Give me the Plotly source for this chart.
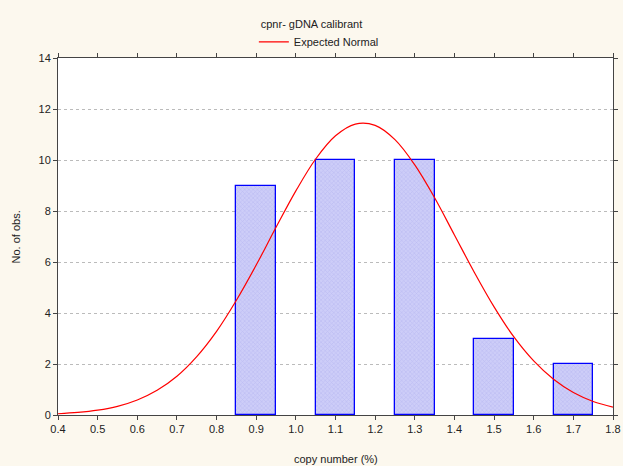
import plotly.graph_objects as go

# Histogram bars
bin_centers = [0.9, 1.1, 1.3, 1.5, 1.7]
counts = [9, 10, 10, 3, 2]

# Expected normal curve
curve_x = [0.40, 0.45, 0.50, 0.55, 0.60, 0.65, 0.70, 0.75, 0.80, 0.85,
           0.90, 0.95, 1.00, 1.05, 1.10, 1.15, 1.20, 1.25, 1.30, 1.35,
           1.40, 1.45, 1.50, 1.55, 1.60, 1.65, 1.70, 1.75, 1.80]
curve_y = [0.05, 0.10, 0.19, 0.34, 0.59, 0.97, 1.52, 2.29, 3.28, 4.50,
           5.88, 7.36, 8.79, 10.04, 10.95, 11.41, 11.36, 10.80, 9.81, 8.52,
           7.06, 5.60, 4.24, 3.06, 2.12, 1.40, 0.88, 0.53, 0.31]

x_ticks = [0.4, 0.5, 0.6, 0.7, 0.8, 0.9, 1.0, 1.1, 1.2, 1.3, 1.4, 1.5, 1.6, 1.7, 1.8]
y_ticks = [0, 2, 4, 6, 8, 10, 12, 14]

font = "Liberation Sans, Arial, sans-serif"

fig = go.Figure()
fig.add_trace(go.Bar(
    x=bin_centers, y=counts, width=0.1, showlegend=False,
    marker=dict(color="#C6C6F6", line=dict(color="#0000FF", width=1.3),
                pattern=dict(shape="x", fgcolor="#A8A8EE", bgcolor="#CDCDF8",
                             size=3, solidity=0.35)),
))
fig.add_trace(go.Scatter(
    x=curve_x, y=curve_y, mode="lines", name="Expected Normal",
    line=dict(color="#FF0000", width=1.2, shape="spline"),
))

fig.update_layout(
    width=623, height=466,
    margin=dict(l=58, r=10, t=58, b=51, autoexpand=False),
    paper_bgcolor="#FCF8EE", plot_bgcolor="#FFFFFF",
    font=dict(family=font, size=11, color="#222222"),
    title=dict(text="cpnr- gDNA calibrant", x=0.5, xanchor="center",
               y=0.949, yanchor="middle", font=dict(size=11, color="#222222")),
    legend=dict(orientation="h", x=0.47, xanchor="center", y=1.045, yanchor="middle",
                bgcolor="rgba(0,0,0,0)", font=dict(size=11)),
    bargap=0,
    annotations=[
        dict(text="copy number (%)", xref="paper", yref="paper", x=0.5, y=-0.123,
             xanchor="center", yanchor="middle", showarrow=False, font=dict(size=11)),
        dict(text="No. of obs.", xref="paper", yref="paper", x=-0.0757, y=0.5,
             xanchor="center", yanchor="middle", textangle=-90, showarrow=False,
             font=dict(size=11)),
    ],
)
fig.update_xaxes(
    range=[0.4, 1.8], tickvals=x_ticks, ticktext=[f"{v:.1f}" for v in x_ticks],
    showgrid=False, zeroline=False, showline=True, linecolor="#444444", linewidth=1,
    mirror="ticks", ticks="outside", ticklen=4, tickcolor="#444444",
    automargin=False, tickfont=dict(size=11), ticklabeloverflow="allow",
)
fig.update_yaxes(
    range=[0, 14], tickvals=y_ticks,
    showgrid=True, gridcolor="#BBBBBB", griddash="dot", gridwidth=1,
    zeroline=False, showline=True, linecolor="#444444", linewidth=1,
    mirror="ticks", ticks="outside", ticklen=4, tickcolor="#444444",
    automargin=False, tickfont=dict(size=11),
)

fig.write_html("out.html", config={"displayModeBar": False},
               post_script="document.body.style.margin='0';")
